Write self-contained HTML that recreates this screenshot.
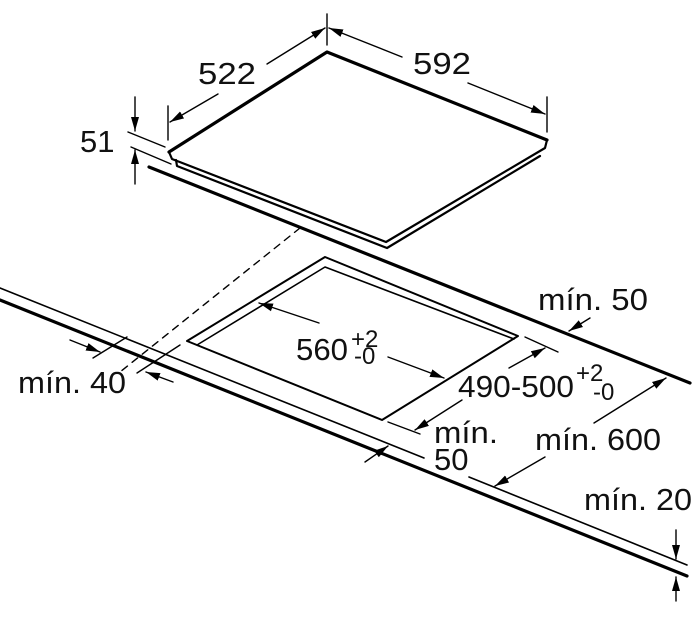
<!DOCTYPE html>
<html><head><meta charset="utf-8"><style>
html,body{margin:0;padding:0;background:#fff;}
svg{display:block;}
text{font-family:"Liberation Sans",sans-serif;fill:#111;}
</style></head><body>
<svg width="700" height="621" viewBox="0 0 700 621" xmlns="http://www.w3.org/2000/svg">
<defs>
<marker id="a" viewBox="0 0 14 10" refX="14" refY="5" markerWidth="14" markerHeight="10" markerUnits="userSpaceOnUse" orient="auto">
<path d="M0,1 L14,5 L0,9 Z" fill="#000"/></marker>
</defs>
<g stroke="#000" fill="none" stroke-linecap="round" stroke-linejoin="round">
<polyline points="169,152 327,52 547,140" stroke-width="3.2"/>
<polyline points="169,152 172,159 386,242 545,148 547,140" stroke-width="2.2"/>
<polyline points="176,160 177,166 387,248 540,156" stroke-width="2.2"/>
<line x1="149" y1="167" x2="690" y2="383" stroke-width="3.2"/>
<line x1="300" y1="228" x2="120" y2="372" stroke-width="1.4" stroke-dasharray="7,6"/>
<line x1="0" y1="288" x2="424" y2="458" stroke-width="1.6"/>
<line x1="469" y1="477" x2="687" y2="565" stroke-width="1.6"/>
<line x1="0" y1="300" x2="687" y2="576" stroke-width="3.2"/>
<polygon points="325,257 518,336 382,420 187,341" stroke-width="2"/>
<polyline points="197,345 325,267 514,339" stroke-width="1.6"/>
<line x1="327" y1="14" x2="327" y2="45" stroke-width="1.4"/>
<line x1="168" y1="106" x2="168" y2="140" stroke-width="1.4"/>
<line x1="267" y1="64" x2="325" y2="28" stroke-width="1.4" marker-end="url(#a)"/>
<line x1="218" y1="94" x2="170" y2="122" stroke-width="1.4" marker-end="url(#a)"/>
<line x1="547" y1="97" x2="547" y2="132" stroke-width="1.4"/>
<line x1="402" y1="57" x2="329" y2="28" stroke-width="1.4" marker-end="url(#a)"/>
<line x1="468" y1="83" x2="545" y2="114" stroke-width="1.4" marker-end="url(#a)"/>
<line x1="128" y1="132" x2="165" y2="147" stroke-width="1.4"/>
<line x1="131" y1="147" x2="171" y2="164" stroke-width="1.4"/>
<line x1="135" y1="97" x2="135" y2="131" stroke-width="1.4" marker-end="url(#a)"/>
<line x1="135" y1="184" x2="135" y2="150" stroke-width="1.4" marker-end="url(#a)"/>
<line x1="319" y1="323" x2="259" y2="303" stroke-width="1.4" marker-end="url(#a)"/>
<line x1="388" y1="357" x2="444" y2="378" stroke-width="1.4" marker-end="url(#a)"/>
<line x1="525" y1="337" x2="558" y2="352" stroke-width="1.4"/>
<line x1="509" y1="368" x2="545" y2="348" stroke-width="1.4" marker-end="url(#a)"/>
<line x1="388" y1="422" x2="420" y2="434" stroke-width="1.4"/>
<line x1="462" y1="400" x2="415" y2="430" stroke-width="1.4" marker-end="url(#a)"/>
<line x1="365" y1="462" x2="388" y2="446" stroke-width="1.4" marker-end="url(#a)"/>
<line x1="70" y1="340" x2="100" y2="352" stroke-width="1.4" marker-end="url(#a)"/>
<line x1="93" y1="358" x2="127" y2="337" stroke-width="1.4"/>
<line x1="173" y1="382" x2="146" y2="372" stroke-width="1.4" marker-end="url(#a)"/>
<line x1="137" y1="373" x2="180" y2="345" stroke-width="1.4"/>
<line x1="590" y1="318" x2="569" y2="331" stroke-width="1.4" marker-end="url(#a)"/>
<line x1="594" y1="423" x2="666" y2="378" stroke-width="1.4" marker-end="url(#a)"/>
<line x1="545" y1="457" x2="495" y2="486" stroke-width="1.4" marker-end="url(#a)"/>
<line x1="676" y1="530" x2="676" y2="559" stroke-width="1.4" marker-end="url(#a)"/>
<line x1="676" y1="601" x2="676" y2="577" stroke-width="1.4" marker-end="url(#a)"/>
</g>
<g font-size="31">
<text x="198" y="84" textLength="58" lengthAdjust="spacingAndGlyphs">522</text>
<text x="413" y="74" textLength="58" lengthAdjust="spacingAndGlyphs">592</text>
<text x="80" y="152">51</text>
<text x="296" y="360" textLength="52" lengthAdjust="spacingAndGlyphs">560</text>
<text x="351" y="347" font-size="24">+2</text>
<text x="354" y="364" font-size="24">-0</text>
<text x="458" y="397" textLength="116" lengthAdjust="spacingAndGlyphs">490-500</text>
<text x="576" y="381" font-size="24">+2</text>
<text x="593" y="400" font-size="24">-0</text>
<text x="18" y="393" textLength="108" lengthAdjust="spacingAndGlyphs">mín. 40</text>
<text x="538" y="310" textLength="110" lengthAdjust="spacingAndGlyphs">mín. 50</text>
<text x="434" y="443" textLength="64" lengthAdjust="spacingAndGlyphs">mín.</text>
<text x="434" y="470">50</text>
<text x="535" y="450" textLength="126" lengthAdjust="spacingAndGlyphs">mín. 600</text>
<text x="584" y="510" textLength="108" lengthAdjust="spacingAndGlyphs">mín. 20</text>
</g>
</svg>
</body></html>
